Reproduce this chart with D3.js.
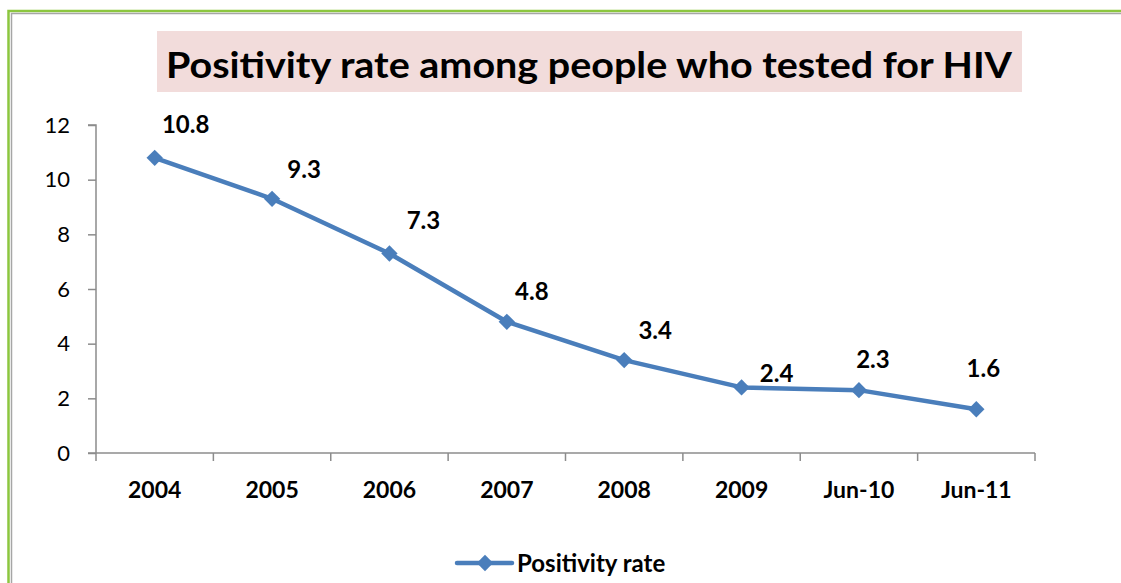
<!DOCTYPE html>
<html>
<head>
<meta charset="utf-8">
<script src="https://cdn.jsdelivr.net/npm/d3@7"></script>
<style>
  body { margin: 0; background: #fff; }
  svg { display: block; font-family: Lato, "Open Sans", sans-serif; }
</style>
</head>
<body>
<div id="chart"></div>
<script>
const categories = ["2004", "2005", "2006", "2007", "2008", "2009", "Jun-10", "Jun-11"]
const positivity = [10.8, 9.3, 7.3, 4.8, 3.4, 2.4, 2.3, 1.6]
const yTicks = [0, 2, 4, 6, 8, 10, 12]
const seriesName = "Positivity rate"
const titleText = "Positivity rate among people who tested for HIV"

// label nudges, hand placed like the original
const labelNudge = [[31, -25], [32, -21], [34, -24], [25, -22], [31, -21], [35, -5], [14, -22], [7, -32]]

const conf = {
    width: 1121,
    height: 583,
    left: 96,
    right: 1035,
    top: 125,
    bottom: 453,
    blue: "#4a7ebb",
    axisGray: "#8c8c8c"
}

let svg = d3.select("#chart").append("svg")
    .attr("width", conf.width)
    .attr("height", conf.height)

// frame
svg.append("rect")
    .attr("x", 8.5).attr("y", 11)
    .attr("width", conf.width + 20).attr("height", conf.height + 20)
    .attr("fill", "none").attr("stroke", "#8cc63f").attr("stroke-width", 2.5)
svg.append("rect")
    .attr("x", 11.5).attr("y", 13.5)
    .attr("width", conf.width + 20).attr("height", conf.height + 20)
    .attr("fill", "none").attr("stroke", "#a6a6a6").attr("stroke-width", 1.5)

// title
svg.append("rect")
    .attr("x", 157).attr("y", 31).attr("width", 865).attr("height", 61)
    .attr("fill", "#f2dcdb")
svg.append("text")
    .attr("x", 166).attr("y", 78)
    .attr("textLength", 846).attr("lengthAdjust", "spacingAndGlyphs")
    .attr("font-size", 36).attr("font-weight", "bold")
    .text(titleText)

let x = d3.scaleBand().domain(categories).range([conf.left, conf.right])
let y = d3.scaleLinear().domain([0, 12]).range([conf.bottom, conf.top])

// y axis
let yAxis = d3.axisLeft(y).tickValues(yTicks).tickSize(8).tickPadding(18)
let gy = svg.append("g").attr("transform", "translate(" + conf.left + ",0)").call(yAxis)
gy.select(".domain").attr("stroke", conf.axisGray).attr("stroke-width", 1.5)
    .attr("d", "M-8," + conf.top + "H0V" + conf.bottom)
gy.selectAll(".tick line").attr("stroke", conf.axisGray).attr("stroke-width", 1.5)
gy.selectAll(".tick text").attr("font-size", 22).attr("fill", "#000")
    .attr("font-family", "Lato, sans-serif")

// x axis, ticks sit on band edges
let gx = svg.append("g").attr("transform", "translate(0," + conf.bottom + ")")
gx.append("path")
    .attr("d", "M" + (conf.left - 8) + ",0H" + conf.right)
    .attr("stroke", conf.axisGray).attr("stroke-width", 1.5)
let edges = categories.map(c => x(c)).concat([conf.right])
gx.selectAll("line.edge").data(edges).join("line")
    .attr("class", "edge")
    .attr("x1", d => d).attr("x2", d => d)
    .attr("y1", 0).attr("y2", 8)
    .attr("stroke", conf.axisGray).attr("stroke-width", 1.5)
gx.selectAll("text").data(categories).join("text")
    .attr("x", d => x(d) + x.bandwidth() / 2)
    .attr("y", 45)
    .attr("text-anchor", "middle")
    .attr("font-size", 23).attr("font-weight", "bold")
    .text(d => d)

// series
let pts = categories.map((c, i) => ({ cat: c, v: positivity[i], i: i }))
let cx = d => x(d.cat) + x.bandwidth() / 2

let line = d3.line().x(cx).y(d => y(d.v))
svg.append("path")
    .datum(pts)
    .attr("d", line)
    .attr("fill", "none")
    .attr("stroke", conf.blue)
    .attr("stroke-width", 4.5)
    .attr("stroke-linejoin", "round")

let diamond = d3.symbol().type(d3.symbolDiamond2).size(170)
svg.selectAll("path.marker").data(pts).join("path")
    .attr("class", "marker")
    .attr("d", diamond)
    .attr("transform", d => "translate(" + cx(d) + "," + y(d.v) + ")")
    .attr("fill", conf.blue)

svg.selectAll("text.label").data(pts).join("text")
    .attr("class", "label")
    .attr("x", d => cx(d) + labelNudge[d.i][0])
    .attr("y", d => y(d.v) + labelNudge[d.i][1])
    .attr("text-anchor", "middle")
    .attr("font-size", 24).attr("font-weight", "bold")
    .text(d => d.v)

// legend
let lg = svg.append("g").attr("transform", "translate(457,563)")
lg.append("line")
    .attr("x1", 0).attr("x2", 55).attr("y1", 0).attr("y2", 0)
    .attr("stroke", conf.blue).attr("stroke-width", 4.5).attr("stroke-linecap", "round")
lg.append("path").attr("d", diamond).attr("transform", "translate(28,0)").attr("fill", conf.blue)
lg.append("text")
    .attr("x", 60).attr("y", 9)
    .attr("font-size", 24).attr("font-weight", "bold")
    .text(seriesName)
</script>
</body>
</html>
